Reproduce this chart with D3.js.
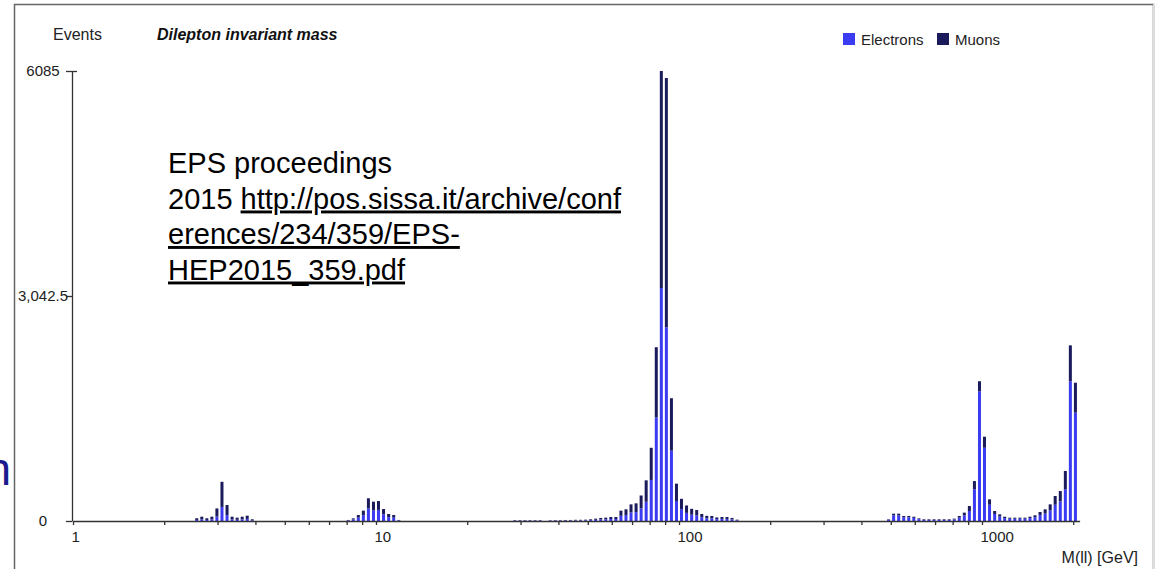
<!DOCTYPE html>
<html lang="en">
<head>
<meta charset="UTF-8">
<title>Dilepton invariant mass</title>
<script src="https://d3js.org/d3.v7.min.js"></script>
<style>
  body { margin: 0; background: #fff; }
  svg { display: block; font-family: "Liberation Sans", Arial, Helvetica, sans-serif; }
  .axis path, .axis line { stroke: #333; stroke-width: 1.3px; }
  .axis text { fill: #222; font-size: 15px; font-family: "Liberation Sans", Arial, sans-serif; }
  .link { text-decoration: underline; }
</style>
</head>
<body>
<svg width="1157" height="569"></svg>
<script>
// bin centres in GeV (log bins), low mass / Z region / high mass
const massBins = [
  2.561, 2.661, 2.765, 2.873, 2.985, 3.102, 3.224, 3.350, 3.481, 3.617, 3.758, 3.905,
  8.097, 8.414, 8.743, 9.085, 9.440, 9.810, 10.19, 10.59, 11.01, 11.44, 11.89,
  28.73, 29.85, 31.02, 32.24, 33.50, 34.81, 37.58, 39.05, 40.58, 42.17, 43.82, 45.53,
  47.32, 49.17, 51.09, 53.09, 55.17, 57.32, 59.57, 61.90, 64.32, 66.84, 69.45, 72.17,
  74.99, 77.92, 80.97, 84.14, 87.43, 90.85, 94.41, 98.10, 101.9, 105.9, 110.1, 114.4,
  118.9, 123.5, 128.3, 133.3, 138.6, 144.0, 149.6, 155.5,
  491.7, 510.9, 530.9, 551.7, 573.2, 595.7, 619.0, 643.2, 668.3, 694.5, 721.7, 749.9,
  779.2, 809.7, 841.4, 874.3, 908.5, 944.1, 981.0, 1019, 1059, 1101, 1144, 1188,
  1235, 1283, 1334, 1386, 1440, 1496, 1555, 1616, 1679, 1744, 1813, 1884, 1957, 2034
];

const electrons = [
  14, 22, 14, 22, 60, 190, 80, 22, 16, 22, 28, 9,
  8, 20, 45, 78, 170, 145, 150, 90, 52, 45, 8,
  6, 6, 6, 6, 6, 6, 5, 6, 6, 7, 7, 8,
  8, 9, 12, 16, 20, 23, 27, 27, 70, 80, 115, 120,
  170, 260, 555, 1400, 3150, 2620, 950, 270, 160, 110, 85, 75,
  50, 36, 35, 25, 28, 28, 21, 9,
  16, 75, 75, 50, 50, 42, 25, 14, 14, 14, 14, 14,
  14, 20, 45, 75, 135, 430, 1755, 990, 220, 95, 60, 38,
  30, 30, 30, 30, 38, 50, 80, 100, 145, 220, 265, 430, 1890, 1465
];

const muons = [
  23, 36, 23, 36, 110, 340, 136, 36, 29, 36, 44, 14,
  6, 16, 36, 62, 137, 116, 120, 72, 43, 36, 6,
  6, 6, 6, 6, 6, 6, 5, 6, 6, 7, 7, 8,
  8, 9, 11, 16, 21, 22, 27, 27, 70, 78, 110, 119,
  175, 290, 435, 950, 2935, 3370, 710, 235, 140, 100, 80, 73,
  45, 34, 33, 23, 26, 26, 20, 9,
  7, 24, 24, 18, 18, 16, 11, 9, 9, 9, 9, 9,
  9, 12, 23, 38, 68, 110, 135, 150, 73, 40, 30, 20,
  15, 15, 15, 15, 20, 27, 42, 58, 80, 118, 140, 246, 485, 405
];

const seriesKeys = ["electrons", "muons"];
const seriesNames = ["Electrons", "Muons"];
const seriesColors = { electrons: "#3b3bf2", muons: "#1b1b5c" };

const yTickValues = [0, 3042.5, 6085];
const yTickLabels = ["0", "3,042.5", "6085"];
const xTickValues = [1, 2, 3, 4, 5, 6, 7, 8, 9, 10, 20, 30, 40, 50, 60, 70, 80, 90,
                     100, 200, 300, 400, 500, 600, 700, 800, 900, 1000, 2000];
const xTickLabels = [1, 10, 100, 1000];

const svg = d3.select("svg");

// outer frame
svg.append("rect")
  .attr("x", 14.5).attr("y", 4.5)
  .attr("width", 1139).attr("height", 600)
  .attr("fill", "none").attr("stroke", "#666").attr("stroke-width", 1.5);
svg.append("line")
  .attr("x1", 1154).attr("x2", 1154).attr("y1", 4).attr("y2", 569)
  .attr("stroke", "#ddd").attr("stroke-width", 2);

const x = d3.scaleLog()
  .domain([1, 2100])
  .range([73, 73 + 303 * Math.log10(2100)]);

const y = d3.scaleLinear()
  .domain([0, 6085])
  .range([521, 71]);

// stacked bars
const rows = massBins.map((m, i) => ({ mass: m, electrons: electrons[i], muons: muons[i] }));
const stacked = d3.stack().keys(seriesKeys)(rows);

svg.append("g")
  .selectAll("g")
  .data(stacked)
  .join("g")
    .attr("fill", d => seriesColors[d.key])
  .selectAll("rect")
  .data(d => d)
  .join("rect")
    .attr("x", d => x(d.data.mass) - 1.5)
    .attr("y", d => y(d[1]))
    .attr("width", 3)
    .attr("height", d => y(d[0]) - y(d[1]));

// x axis
const xAxis = svg.append("g")
  .attr("class", "axis")
  .attr("transform", "translate(0,521)")
  .call(d3.axisBottom(x)
    .tickValues(xTickValues)
    .tickSize(4)
    .tickSizeOuter(0)
    .tickFormat(d => xTickLabels.includes(d) ? String(d) : ""));
xAxis.selectAll(".tick text")
  .attr("text-anchor", "start")
  .attr("x", -2)
  .attr("y", 10);

// y axis
const yAxis = svg.append("g")
  .attr("class", "axis")
  .attr("transform", "translate(72,0)")
  .call(d3.axisLeft(y)
    .tickValues(yTickValues)
    .tickSize(6)
    .tickSizeOuter(0)
    .tickFormat((d, i) => yTickLabels[i]));
yAxis.selectAll(".tick text")
  .attr("text-anchor", "middle")
  .attr("x", -29);
yAxis.selectAll(".tick line")
  .attr("x1", d => d === 6085 ? 5 : 0);

// header texts
svg.append("text")
  .attr("x", 53).attr("y", 40)
  .attr("font-size", 16).attr("fill", "#222")
  .text("Events");

svg.append("text")
  .attr("x", 157).attr("y", 40)
  .attr("font-size", 16).attr("font-weight", "bold").attr("font-style", "italic")
  .attr("fill", "#111")
  .text("Dilepton invariant mass");

svg.append("text")
  .attr("x", 1138).attr("y", 563)
  .attr("text-anchor", "end")
  .attr("font-size", 16).attr("fill", "#222")
  .text("M(ll) [GeV]");

// legend
const legendX = [843, 937];
const legend = svg.append("g");
seriesKeys.forEach((k, i) => {
  legend.append("rect")
    .attr("x", legendX[i]).attr("y", 33)
    .attr("width", 12).attr("height", 12)
    .attr("fill", seriesColors[k]);
  legend.append("text")
    .attr("x", legendX[i] + 18).attr("y", 45)
    .attr("font-size", 15).attr("fill", "#222")
    .text(seriesNames[i]);
});

// reference note pasted on the slide
const note = svg.append("text")
  .attr("x", 168)
  .attr("font-size", 29)
  .attr("fill", "#000");
note.append("tspan").attr("x", 168).attr("y", 173).text("EPS proceedings");
const l2 = note.append("tspan").attr("x", 168).attr("y", 208.5);
l2.append("tspan").text("2015 ");
l2.append("tspan").attr("class", "link").text("http://pos.sissa.it/archive/conf");
note.append("tspan").attr("class", "link").attr("x", 168).attr("y", 244).text("erences/234/359/EPS-");
note.append("tspan").attr("class", "link").attr("x", 168).attr("y", 279.5).text("HEP2015_359.pdf");

// clipped slide letter at the left edge
svg.append("text")
  .attr("x", -14.5).attr("y", 485)
  .attr("font-size", 46)
  .attr("fill", "#1a1a8c")
  .text("n");
</script>
</body>
</html>
